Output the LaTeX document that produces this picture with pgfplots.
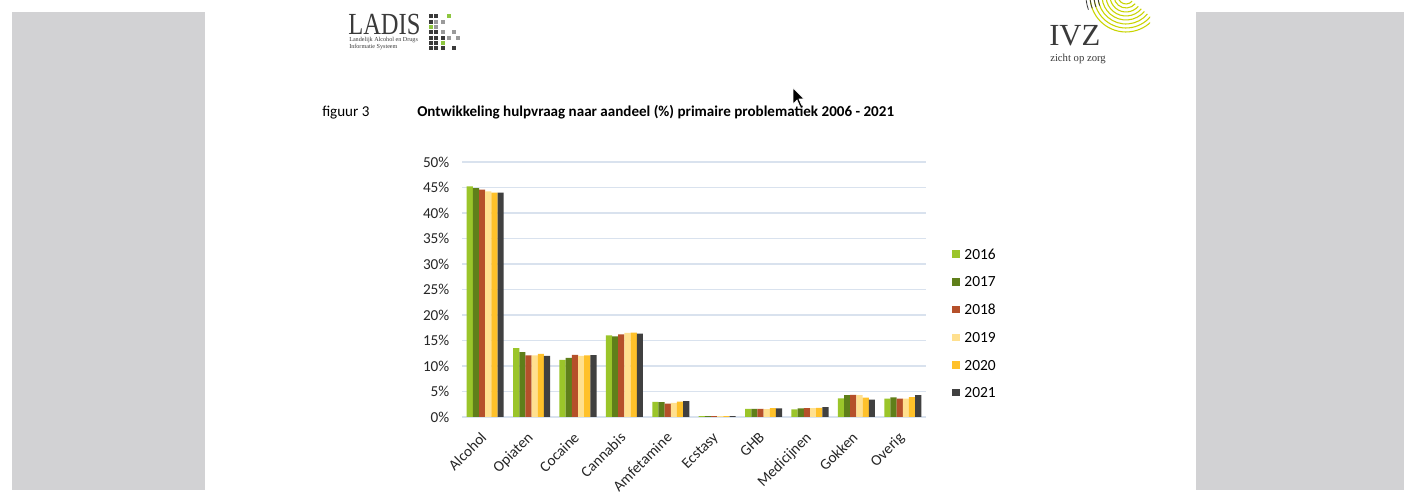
\documentclass[border=0pt]{standalone}
\usepackage{pgfplots}
\pgfplotsset{compat=1.18}
\usepackage{pgfplotstable}
\usepackage{fontspec}
\setmainfont{Carlito}
\newfontfamily\logoserif{Liberation Serif}

\definecolor{c16}{HTML}{9BC52A}
\definecolor{c17}{HTML}{5F7F1A}
\definecolor{c18}{HTML}{B5502A}
\definecolor{c19}{HTML}{FFE08F}
\definecolor{c20}{HTML}{FFC12A}
\definecolor{c21}{HTML}{404040}
\definecolor{gridc}{HTML}{D9E2EE}
\definecolor{panel}{HTML}{D2D2D4}
\definecolor{logogrey}{HTML}{3A3A3A}
\definecolor{logolight}{HTML}{9A9A9A}
\definecolor{logogreen}{HTML}{8DC63F}
\definecolor{ivzyellow}{HTML}{C9D400}

\pgfplotstableread{
x  y2016 y2017 y2018 y2019 y2020 y2021
0  45.2  44.9  44.6  44.25 44.0  44.0
1  13.5  12.7  12.1  12.1  12.4  12.0
2  11.2  11.6  12.2  12.0  12.1  12.15
3  16.0  15.8  16.2  16.5  16.55 16.35
4  2.95  2.9   2.6   2.75  3.0   3.1
5  0.15  0.15  0.15  0.15  0.15  0.15
6  1.6   1.6   1.6   1.55  1.75  1.7
7  1.5   1.7   1.75  1.75  1.8   1.95
8  3.65  4.3   4.35  4.3   3.8   3.4
9  3.6   3.85  3.6   3.6   3.9   4.3
}\datatable

\begin{document}
\begin{tikzpicture}[x=0.75pt,y=0.75pt]
\path[use as bounding box] (0,0) rectangle (1416,502);
\fill[white] (0,0) rectangle (1416,502);
\fill[panel] (12,12) rectangle (205,490);
\fill[panel] (1196,12) rectangle (1404,490);

% LADIS logo
\node[anchor=base west, inner sep=0pt, text=logogrey, font=\logoserif\fontsize{23}{23}\selectfont] at (348,467) {\scalebox{0.8}[1]{LADIS}};
\node[anchor=base west, inner sep=0pt, text=logogrey, font=\logoserif\fontsize{4.6}{5}\selectfont] at (349,460) {Landelijk Alcohol en Drugs};
\node[anchor=base west, inner sep=0pt, text=logogrey, font=\logoserif\fontsize{4.6}{5}\selectfont] at (349,453) {Informatie Systeem};
\foreach \cx/\cy/\cc in {430.7/16/logogrey,436/16/logogrey,449.3/16/logogreen,
  430.7/21.7/logogrey,436/21.7/logolight,443.3/21.7/logolight,
  430.7/26.7/logogreen,436/26.7/logolight,
  430.7/32.3/logogrey,436/32.3/logogrey,443.3/32.3/logolight,454/32.3/logolight,
  430.7/37.7/logogrey,436/37.7/logogrey,443.3/37.7/logogrey,449.3/37.7/logolight,458/37.7/logolight,
  430.7/42.7/logogrey,436/42.7/logogrey,443.3/42.7/logogreen,
  430.7/48.3/logogrey,436/48.3/logogrey,443.3/48.3/logogrey,454/48.3/logogrey}
  {\fill[\cc] (\cx-2,502-\cy-2) rectangle (\cx+2,502-\cy+2);}

% IVZ logo
\begin{scope}
\clip (1070,465) rectangle (1150,502);
\foreach \r in {8,12,16,20,24,28,32,36}
  {\draw[ivzyellow, line width=0.8pt] (1126,506) ++(185:\r) arc (185:320:\r);}
\foreach \r in {28,32,36,40}
  {\draw[logogrey, line width=0.6pt] (1126,506) ++(175:\r) arc (175:200:\r);}
\end{scope}
\node[anchor=base west, inner sep=0pt, text=logogrey, font=\logoserif\fontsize{23}{23}\selectfont] at (1049,456) {IVZ};
\node[anchor=base west, inner sep=0pt, text=logogrey, font=\logoserif\fontsize{8}{9}\selectfont] at (1050,440) {zicht op zorg};

% cursor
\filldraw[fill=black, draw=white, line width=0.5pt] (793,414) -- (793,398) -- (797,402) -- (800,395) -- (802,396) -- (799,403) -- (804,403) -- cycle;

% titles
\node[anchor=base west, inner sep=0pt, font=\fontsize{11.3}{13}\selectfont] at (322,385) {figuur 3};
\node[anchor=base west, inner sep=0pt, font=\fontsize{11.3}{13}\selectfont\bfseries] at (417,385) {Ontwikkeling hulpvraag naar aandeel (\%) primaire problematiek 2006 - 2021};

\begin{axis}[
  at={(346.5pt,63.75pt)}, anchor=south west, scale only axis,
  width=348pt, height=191.25pt,
  ybar=0pt, bar width=4.63pt,
  xmin=-0.5, xmax=9.5, ymin=0, ymax=50,
  xtick={0,...,9},
  xticklabels={Alcohol,Opiaten,Cocaine,Cannabis,Amfetamine,Ecstasy,GHB,Medicijnen,Gokken,Overig},
  ytick={0,5,...,50},
  yticklabel={\pgfmathprintnumber{\tick}\%},
  /pgf/number format/assume math mode=true,
  ymajorgrids, grid style={color=gridc, line width=0.9pt},
  axis x line*=bottom, axis y line*=left,
  x axis line style={color=gridc, line width=0.9pt, -},
  y axis line style={draw=none},
  major tick length=0pt,
  tick label style={font=\fontsize{11.4}{13}\selectfont, text=black!85},
  yticklabel style={xshift=-6pt},
  xticklabel style={xshift=-4pt, yshift=-9pt, rotate=45, anchor=north east, inner sep=1pt},
  legend cell align=left,
  legend style={at={(1.056,0.367)}, anchor=west, draw=none, fill=none,
    inner sep=0pt, row sep=9.2pt, font=\fontsize{11.6}{13}\selectfont,
    nodes={inner sep=2pt, text height=7.6pt, text depth=0pt},
    /tikz/every odd column/.append style={column sep=1.5pt}},
  legend image code/.code={\fill[#1] (0pt,-2.8pt) rectangle (5.6pt,2.8pt);},
]
\addplot[fill=c16, draw=none] table[x=x,y=y2016] {\datatable};
\addplot[fill=c17, draw=none] table[x=x,y=y2017] {\datatable};
\addplot[fill=c18, draw=none] table[x=x,y=y2018] {\datatable};
\addplot[fill=c19, draw=none] table[x=x,y=y2019] {\datatable};
\addplot[fill=c20, draw=none] table[x=x,y=y2020] {\datatable};
\addplot[fill=c21, draw=none] table[x=x,y=y2021] {\datatable};
\legend{2016,2017,2018,2019,2020,2021}
\end{axis}
\end{tikzpicture}
\end{document}
